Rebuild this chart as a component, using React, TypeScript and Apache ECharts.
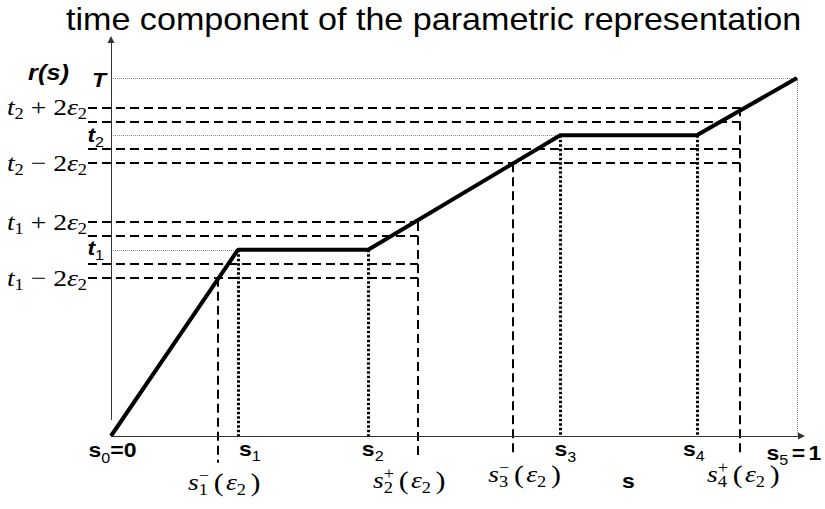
import React, { useEffect, useRef } from 'react';
import * as echarts from 'echarts';

const TITLE = 'time component of the parametric representation';

// Breakpoints of the piecewise-linear time component r(s)
const S_KNOTS = [0, 0.185, 0.375, 0.655, 0.854, 1];
const R_KNOTS = [0, 0.52, 0.52, 0.84, 0.84, 1];
const S_NAMES = ['0', '1', '2', '3', '4', '5'];

const T1 = 0.52;
const T2 = 0.84;
const T_END = 1;

// bands t_i ± eps2, t_i ± 2 eps2
const BAND_T1 = [0.442, 0.481, 0.559, 0.598];
const BAND_T2 = [0.762, 0.801, 0.879, 0.918];

// labelled band levels (tick labels on the left)
const BAND_LABEL_LEVELS = [0.918, 0.762, 0.598, 0.442];
const BAND_LABEL_T = ['2', '2', '1', '1'];
const BAND_LABEL_OP = ['+', '−', '+', '−'];

// s1-(eps2), s2+(eps2), s3-(eps2), s4+(eps2)
const S_EPS = [0.156, 0.4475, 0.585, 0.917];
const S_EPS_TOP = [0.442, 0.598, 0.762, 0.918];
const S_EPS_INDEX = ['1', '2', '3', '4'];
const S_EPS_SIGN = ['−', '+', '−', '+'];

const SERIF = 'Liberation Serif';
const SANS = 'Liberation Sans';
const SX = 1.15;

const RICH: any = {
  it: { fontFamily: SERIF, fontStyle: 'italic', fontSize: 24, lineHeight: 30, align: 'left' },
  rm: { fontFamily: SERIF, fontSize: 24, lineHeight: 30, align: 'left' },
  lp: { fontFamily: SERIF, fontSize: 26, lineHeight: 30, padding: [0, 2, 0, 5], align: 'left' },
  rp: { fontFamily: SERIF, fontSize: 26, lineHeight: 30, padding: [0, 0, 0, 4], align: 'left' },
  sub: { fontFamily: SERIF, fontSize: 16, verticalAlign: 'bottom', align: 'left' },
  sup: { fontFamily: SERIF, fontSize: 16, verticalAlign: 'top', width: 0, align: 'left' },
  b: { fontFamily: SANS, fontWeight: 'bold', fontSize: 20, lineHeight: 28, align: 'left' },
  bp: { fontFamily: SANS, fontWeight: 'bold', fontSize: 20, lineHeight: 28, padding: [0, 0, 0, 3], align: 'left' },
  bi: { fontFamily: SANS, fontWeight: 'bold', fontStyle: 'italic', fontSize: 20, lineHeight: 28, align: 'left' },
  bib: { fontFamily: SANS, fontWeight: 'bold', fontStyle: 'italic', fontSize: 22, lineHeight: 28, align: 'left' },
  bsub: { fontFamily: SANS, fontSize: 14, verticalAlign: 'bottom', align: 'left' },
};

const X_DASH_START = -0.0335;

function buildOption() {
  const dash = { color: '#000', width: 2, type: [9, 5] };
  const dotBold = { color: '#000', width: 3, type: [2.5, 2] };
  const dotThin = { color: '#888', width: 1, type: [1, 1] };
  const seg = (a: number[], b: number[], style: any) => [{ coord: a, lineStyle: style }, { coord: b }];

  const guides: any[] = [];
  BAND_T1.forEach((v) => guides.push(seg([X_DASH_START, v], [S_EPS[1], v], dash)));
  BAND_T2.forEach((v) => guides.push(seg([X_DASH_START, v], [S_EPS[3], v], dash)));
  S_EPS.forEach((s, i) => guides.push(seg([s, S_EPS_TOP[i]], [s, i === 0 ? -0.075 : -0.059], dash)));
  [1, 2, 3, 4].forEach((i) => guides.push(seg([S_KNOTS[i], R_KNOTS[i]], [S_KNOTS[i], 0], dotBold)));
  guides.push(seg([0, T_END], [S_KNOTS[5], T_END], dotThin));
  guides.push(seg([S_KNOTS[5], T_END], [S_KNOTS[5], 0], dotThin));
  guides.push(seg([0, T1], [S_KNOTS[1], T1], dotThin));
  guides.push(seg([0, T2], [S_KNOTS[3], T2], dotThin));

  const axes = [
    [{ coord: [0, 0] }, { coord: [1.0066, 0] }],
    [{ coord: [0, 0.045] }, { coord: [0, 1.1075] }],
  ];

  return {
    animation: false,
    backgroundColor: '#fff',
    grid: { left: 76.7, right: 19.8, top: 37.9, bottom: 44.36 },
    xAxis: { type: 'value', min: -0.05, max: 1.012, show: false },
    yAxis: { type: 'value', min: -0.08, max: 1.112, show: false },
    series: [
      {
        type: 'line',
        data: [[0, 0]],
        symbol: 'none',
        lineStyle: { width: 0 },
        silent: true,
        z: 2,
        markLine: {
          silent: true,
          animation: false,
          symbol: ['none', 'none'],
          label: { show: false },
          emphasis: { disabled: true },
          lineStyle: dash,
          data: guides,
        },
      },
      {
        type: 'line',
        data: [[0, 0]],
        symbol: 'none',
        lineStyle: { width: 0 },
        silent: true,
        z: 3,
        markLine: {
          silent: true,
          animation: false,
          symbol: ['none', 'triangle'],
          symbolSize: 7,
          label: { show: false },
          emphasis: { disabled: true },
          lineStyle: { color: '#333', width: 1, type: 'solid' },
          data: axes,
        },
      },
      {
        type: 'line',
        name: 'r(s)',
        data: S_KNOTS.map((s, i) => [s, R_KNOTS[i]]),
        symbol: 'none',
        silent: true,
        z: 10,
        lineStyle: { color: '#000', width: 4 },
      },
    ],
  };
}

type Lab = { at: number[]; dx: number; dy: number; align: string; text: string };

function buildLabels(): Lab[] {
  const labs: Lab[] = [];
  BAND_LABEL_LEVELS.forEach((v, i) =>
    labs.push({
      at: [X_DASH_START, v],
      dx: -1,
      dy: 0,
      align: 'right',
      text: `{it|t}{sub|${BAND_LABEL_T[i]}}{rm|\u00a0${BAND_LABEL_OP[i]}\u00a02}{it|ε}{sub|2}`,
    })
  );
  labs.push({ at: [0, T_END], dx: -62.5, dy: -5, align: 'center', text: '{bib|r(s)}' });
  labs.push({ at: [0, T_END], dx: -12, dy: 2.5, align: 'center', text: '{bi|T}' });
  labs.push({ at: [0, T2], dx: -7, dy: -0.5, align: 'right', text: '{bi|t}{bsub|2}' });
  labs.push({ at: [0, T1], dx: -7, dy: -1.5, align: 'right', text: '{bi|t}{bsub|1}' });

  const sDx = [1.5, 12, 4.5, 5, -3, -3];
  const sDy = [14.5, 13, 13, 13.5, 13, 17];
  S_KNOTS.forEach((s, i) => {
    let text = `{b|s}{bsub|${S_NAMES[i]}}`;
    if (i === 0) text += '{b|=0}';
    if (i === S_KNOTS.length - 1) text += '{bp|=}{bp|1}';
    labs.push({ at: [s, 0], dx: sDx[i], dy: sDy[i], align: 'center', text });
  });
  labs.push({ at: [0.75, 0], dx: 3, dy: 45.5, align: 'center', text: '{b|s}' });

  const eDx = [-30, -45, -24, -33];
  const eDy = [46.5, 44.5, 38.5, 38.5];
  S_EPS.forEach((s, i) =>
    labs.push({
      at: [s, 0],
      dx: eDx[i],
      dy: eDy[i],
      align: 'left',
      text: `{it|s}{sup|${S_EPS_SIGN[i]}}{sub|${S_EPS_INDEX[i]}}{lp|(}{it|ε}{sub|2}{rp|)}`,
    })
  );
  return labs;
}

export default function App() {
  const ref = useRef<HTMLDivElement>(null);
  useEffect(() => {
    const el = ref.current!;
    const chart = echarts.init(el, undefined, { renderer: 'svg' });
    chart.setOption(buildOption() as any);
    const toPx = (p: number[]) => chart.convertToPixel({ gridIndex: 0 } as any, p) as unknown as number[];
    const elements: any[] = buildLabels().map((l) => {
      const [x, y] = toPx(l.at);
      return {
        type: 'text',
        x: x + l.dx,
        y: y + l.dy,
        scaleX: SX,
        silent: true,
        z: 20,
        style: {
          text: l.text,
          rich: RICH,
          fill: '#000',
          align: l.align,
          textAlign: l.align,
          verticalAlign: 'middle',
          textVerticalAlign: 'middle',
        },
      };
    });
    elements.push({
      type: 'text',
      x: 66,
      y: 19.5,
      scaleX: 1.1,
      silent: true,
      style: {
        text: TITLE,
        fontFamily: SANS,
        fontSize: 31,
        fill: '#000',
        align: 'left',
        textAlign: 'left',
        verticalAlign: 'middle',
        textVerticalAlign: 'middle',
      },
    });
    chart.setOption({ graphic: { elements } } as any);
    return () => chart.dispose();
  }, []);
  return (
    <div
      ref={ref}
      style={{ position: 'fixed', left: 0, top: 0, width: 825, height: 509, background: '#fff' }}
    />
  );
}
